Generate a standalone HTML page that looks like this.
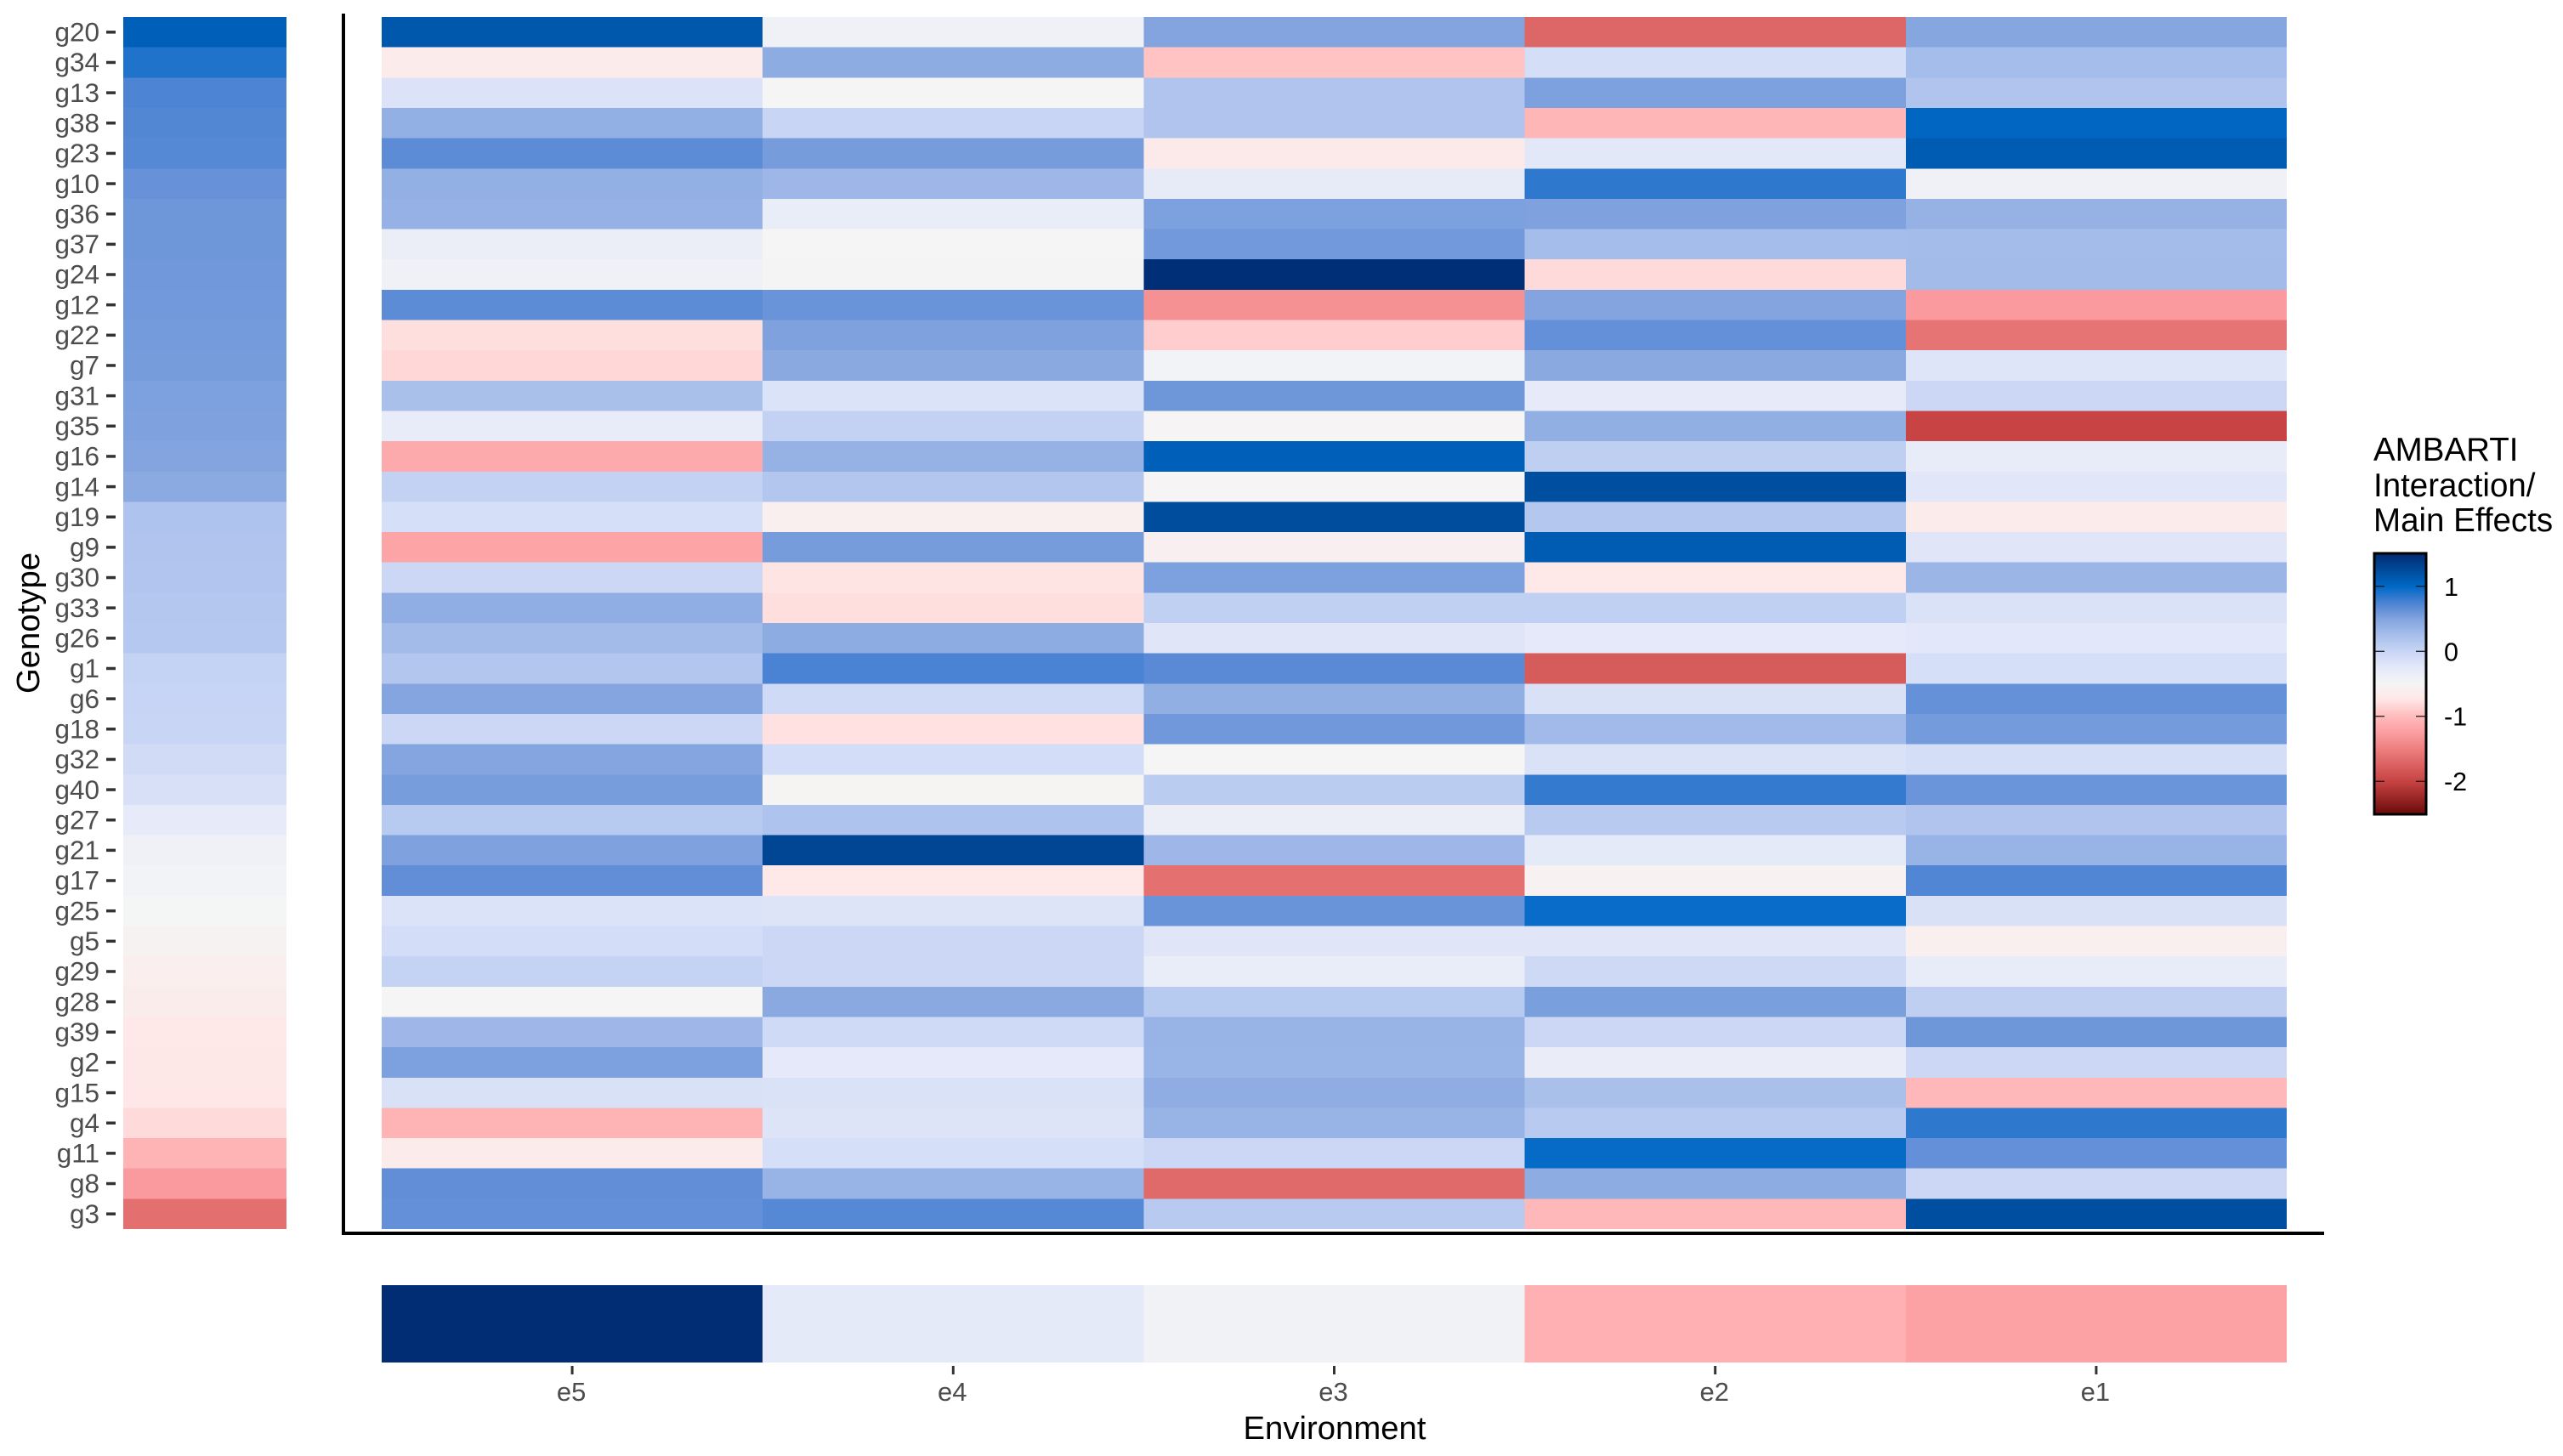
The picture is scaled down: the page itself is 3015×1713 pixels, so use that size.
<!DOCTYPE html>
<html lang="en">
<head>
<meta charset="utf-8">
<title>AMBARTI heatmap</title>
<style>
html,body{margin:0;padding:0;background:#fff;width:3015px;height:1713px;overflow:hidden}
svg{display:block}
text{font-family:"Liberation Sans",sans-serif}
</style>
</head>
<body>
<svg id="chart" xmlns="http://www.w3.org/2000/svg" width="3015" height="1713" viewBox="0 0 3015 1713">
  <defs><linearGradient id="legend-gradient" x1="0" y1="0" x2="0" y2="1"></linearGradient></defs>
  <rect x="0" y="0" width="3015" height="1713" fill="#ffffff"/>
  <g id="genotype-strip"></g>
  <g id="cells"></g>
  <g id="environment-strip"></g>
  <g id="y-axis"></g>
  <g id="x-axis"></g>
  <line x1="404" y1="16" x2="404" y2="1453" stroke="#000" stroke-width="4"/>
  <line x1="402" y1="1451" x2="2734" y2="1451" stroke="#000" stroke-width="4"/>
  <text transform="translate(46 733) rotate(-90)" text-anchor="middle" font-size="38.3" fill="#000">Genotype</text>
  <text x="1570" y="1693" text-anchor="middle" font-size="38.3" fill="#000">Environment</text>
  <g id="legend">
    <text x="2792" y="542" font-size="38.5" fill="#000">AMBARTI</text>
    <text x="2792" y="584" font-size="38.5" fill="#000">Interaction/</text>
    <text x="2792" y="625" font-size="38.5" fill="#000">Main Effects</text>
  </g>
</svg>
<script>
const genotypes = ["g20","g34","g13","g38","g23","g10","g36","g37","g24","g12","g22","g7","g31","g35","g16","g14","g19","g9","g30","g33","g26","g1","g6","g18","g32","g40","g27","g21","g17","g25","g5","g29","g28","g39","g2","g15","g4","g11","g8","g3"];
const environments = ["e5","e4","e3","e2","e1"];
const genotypeEffects = [1.08,.9,.74,.72,.71,.63,.6,.6,.59,.58,.57,.56,.53,.52,.5,.44,.2,.19,.18,.16,.15,.03,.01,0,-.08,-.14,-.28,-.42,-.45,-.49,-.55,-.62,-.65,-.72,-.73,-.74,-.82,-1.07,-1.28,-1.64];
const environmentEffects = [1.5,-.27,-.44,-1.1,-1.22];
const e5Values = [1.15,-.67,-.18,.39,.68,.39,.38,-.36,-.42,.68,-.8,-.84,.24,-.31,-1.15,.04,-.12,-1.2,-.03,.41,.29,.17,.49,-.03,.49,.55,.13,.52,.66,-.17,-.1,.03,-.5,.32,.53,-.15,-1.07,-.67,.66,.65];
const e4Values = [-.42,.43,-.5,0,.56,.32,-.33,-.5,-.51,.62,.52,.45,-.17,.04,.37,.17,-.6,.56,-.76,-.8,.43,.75,-.06,-.78,-.1,-.53,.2,1.3,-.72,-.19,-.03,-.03,.45,-.06,-.26,-.16,-.19,-.12,.36,.71];
const e3Values = [.5,-.96,.19,.19,-.68,-.29,.53,.58,1.48,-1.36,-.9,-.46,.6,-.52,1.08,-.52,1.24,-.58,.53,.06,-.21,.69,.4,.59,-.5,.1,-.35,.32,-1.63,.62,-.21,-.33,.13,.36,.35,.42,.36,-.03,-1.68,.12];
const e2Values = [-1.72,-.11,.53,-1.05,-.24,.85,.52,.27,-.82,.5,.65,.45,-.28,.4,.07,1.23,.16,1.12,-.72,.06,-.26,-1.81,-.15,.3,-.16,.83,.12,-.27,-.56,.97,-.21,-.05,.54,-.03,-.34,.24,.12,.98,.43,-1.03];
const e1Values = [.48,.27,.19,1.03,1.12,-.42,.37,.28,.29,-1.28,-1.6,-.2,-.03,-2.0,-.31,-.22,-.67,-.21,.34,-.16,-.23,-.12,.64,.57,-.11,.61,.19,.36,.73,-.15,-.6,-.31,.07,.6,-.03,-1.03,.85,.65,-.03,1.23];
const interactionColumns = [e5Values, e4Values, e3Values, e2Values, e1Values];
const legendTickValues = [1, 0, -1, -2];
const legendTickLabels = ["1", "0", "-1", "-2"];

const colorStops = [
  [1.52,"#002a70"],[1.25,"#004c9c"],[1.0,"#0069c6"],[.85,"#2e78ce"],[.7,"#5889d5"],
  [.5,"#83a4df"],[.25,"#a8bfeb"],[0,"#c8d5f5"],[-.25,"#e4e9f9"],[-.5,"#f5f5f5"],
  [-.75,"#ffe6e6"],[-1,"#ffbcbc"],[-1.25,"#fc9ea2"],[-1.5,"#ee8080"],[-2,"#c84444"],[-2.52,"#6b0a0a"]
];
function hexToRgb(h){return [1,3,5].map(i=>parseInt(h.slice(i,i+2),16));}
function colorScale(v){
  if(v>=colorStops[0][0])return colorStops[0][1];
  for(let i=0;i<colorStops.length-1;i++){
    const a=colorStops[i],b=colorStops[i+1];
    if(v<=a[0]&&v>=b[0]){
      const t=(a[0]-v)/(a[0]-b[0]),ca=hexToRgb(a[1]),cb=hexToRgb(b[1]);
      return "rgb("+ca.map((c,k)=>Math.round(c+(cb[k]-c)*t)).join(",")+")";
    }
  }
  return colorStops[colorStops.length-1][1];
}
const panelTop=20,panelBottom=1446,heatLeft=449,heatRight=2690;
const rowHeight=(panelBottom-panelTop)/genotypes.length;
const colWidth=(heatRight-heatLeft)/environments.length;
function yScale(i){return panelTop+i*rowHeight;}
function xScale(j){return heatLeft+j*colWidth;}
const legendTop=650,legendBottom=959,legendMax=1.52,legendMin=-2.52;
function legendY(v){return legendTop+(legendMax-v)/(legendMax-legendMin)*(legendBottom-legendTop);}
const NS="http://www.w3.org/2000/svg";
function make(tag,parent,attrs){
  const el=document.createElementNS(NS,tag);
  for(const k in attrs)el.setAttribute(k,attrs[k]);
  parent.appendChild(el);
  return el;
}
const stripG=document.getElementById("genotype-strip");
const cellsG=document.getElementById("cells");
const envG=document.getElementById("environment-strip");
const yAxisG=document.getElementById("y-axis");
const xAxisG=document.getElementById("x-axis");
const legendG=document.getElementById("legend");

genotypes.forEach((g,i)=>{
  const top=yScale(i),bot=yScale(i+1),mid=(top+bot)/2;
  const strip=make("rect",stripG,{x:145,y:top,width:192,height:bot-top,fill:colorScale(genotypeEffects[i]),"shape-rendering":"crispEdges"});
  
  
  const tick=make("line",yAxisG,{x1:125,x2:136,y1:mid,y2:mid,stroke:"#333333","stroke-width":3.5});
  
  
  const label=make("text",yAxisG,{x:117,y:mid+10.7,"text-anchor":"end","font-size":31.5,fill:"#4d4d4d"});
  label.textContent=g;
  
  
  interactionColumns.forEach((col,j)=>{
    const cell=make("rect",cellsG,{x:xScale(j),y:top,width:colWidth,height:bot-top,fill:colorScale(col[i]),"shape-rendering":"crispEdges"});
    
    
  });
});
environments.forEach((e,j)=>{
  const cx=xScale(j)+colWidth/2;
  const cell=make("rect",envG,{x:xScale(j),y:1512,width:colWidth,height:91,fill:colorScale(environmentEffects[j]),"shape-rendering":"crispEdges"});
  
  
  const tick=make("line",xAxisG,{x1:cx,x2:cx,y1:1607,y2:1617,stroke:"#333333","stroke-width":3});
  
  
  const label=make("text",xAxisG,{x:cx-1,y:1648,"text-anchor":"middle","font-size":31,fill:"#4d4d4d"});
  label.textContent=e;
  
  
});
const grad=document.getElementById("legend-gradient");
colorStops.forEach(s=>{
  make("stop",grad,{offset:(legendMax-s[0])/(legendMax-legendMin),"stop-color":s[1]});
});
const bar=make("rect",legendG,{x:2793,y:651,width:61,height:307,fill:"url(#legend-gradient)",stroke:"#000","stroke-width":3});


legendTickValues.forEach((v,i)=>{
  const y=legendY(v);
  const left=make("line",legendG,{x1:2794,x2:2805,y1:y,y2:y,stroke:"#111","stroke-width":1.2});
  
  
  const right=make("line",legendG,{x1:2842,x2:2853,y1:y,y2:y,stroke:"#111","stroke-width":1.2});
  
  
  const label=make("text",legendG,{x:2875,y:y+11,"font-size":30.5,fill:"#000"});
  label.textContent=legendTickLabels[i];
  
  
});
</script>
</body>
</html>
